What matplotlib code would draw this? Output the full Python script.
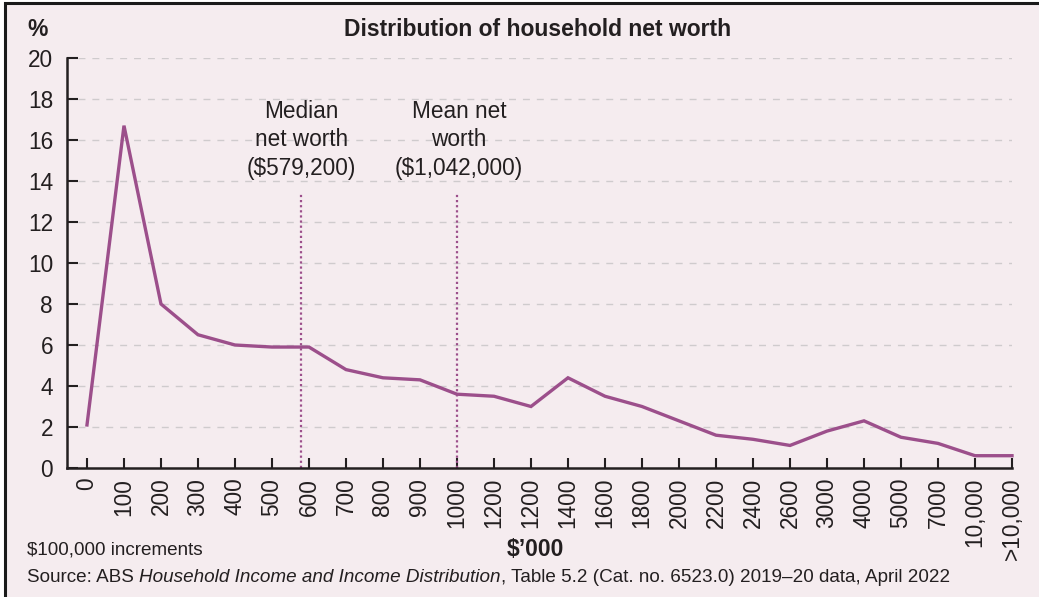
import matplotlib
matplotlib.use("Agg")
import matplotlib.pyplot as plt
from matplotlib.patches import Rectangle

plt.rcParams['font.family'] = ['Liberation Sans', 'DejaVu Sans']

# --- data ---
categories = ["0", "100", "200", "300", "400", "500", "600", "700", "800", "900",
              "1000", "1200", "1200", "1400", "1600", "1800", "2000", "2200", "2400",
              "2600", "3000", "4000", "5000", "7000", "10,000", ">10,000"]
share_pct = [2.1, 16.7, 8.0, 6.5, 6.0, 5.9, 5.9, 4.8, 4.4, 4.3,
             3.6, 3.5, 3.0, 4.4, 3.5, 3.0, 2.3, 1.6, 1.4,
             1.1, 1.8, 2.3, 1.5, 1.2, 0.6, 0.6]
median_k = 579.2
mean_k = 1042.0
y_ticks = [0, 2, 4, 6, 8, 10, 12, 14, 16, 18, 20]

BG = "#f5ecef"
LINE = "#9c4f8b"
GRID = "#cfcbcd"
TXT = "#231f20"

fig = plt.figure(figsize=(10.39, 5.97), dpi=100)
fig.patch.set_facecolor("white")
# panel background with black frame on left/top
fig.patches.append(Rectangle((5 / 1039, -0.01), 1.02, 1 - 3 / 597 + 0.01,
                             transform=fig.transFigure, facecolor=BG,
                             edgecolor="#1a1a1a", linewidth=2.2, zorder=-1))

ax = fig.add_axes([67 / 1039, 129 / 597, (1012 - 67) / 1039, 410 / 597])
ax.set_facecolor("none")

x = list(range(len(categories)))
ax.plot(x, share_pct, color=LINE, linewidth=2.4, solid_joinstyle="miter",
        clip_on=False, zorder=3)

# median / mean markers (positioned on the category scale)
median_pos = categories.index("500") + (median_k - 500) / 100
mean_pos = categories.index("1000")
for pos in (median_pos, mean_pos):
    ax.vlines(pos, 0, 13.4, colors=LINE, linewidth=1.6,
              linestyles=(0, (1, 1.3)), zorder=2)
ax.text(median_pos, 16, "Median\nnet worth\n($579,200)", ha="center", va="center",
        fontsize=16.3, color=TXT, linespacing=1.32)
ax.text(mean_pos + 0.05, 16, "Mean net\nworth\n($1,042,000)", ha="center", va="center",
        fontsize=16.3, color=TXT, linespacing=1.32)

# dashed gridlines
ax.hlines(y_ticks[1:], -0.25, len(categories) - 1, colors=GRID, linewidth=1.0,
          linestyles=(0, (5, 5)), zorder=1)

ax.set_xlim(-0.54, len(categories) - 1)
ax.set_ylim(0, 20)
ax.set_yticks(y_ticks)
ax.set_xticks(x)
ax.set_xticklabels(categories, rotation=90, va="top", ha="center")
ax.tick_params(axis="y", direction="in", length=8, width=1.5, pad=10,
               labelsize=16.3, colors=TXT)
ax.tick_params(axis="x", direction="in", length=7, width=1.5, pad=7,
               labelsize=16.3, colors=TXT)
for side in ("top", "right"):
    ax.spines[side].set_visible(False)
for side in ("left", "bottom"):
    ax.spines[side].set_linewidth(1.8)
    ax.spines[side].set_color(TXT)

# titles and notes
fig.text(538 / 1039, 1 - 30 / 597, "Distribution of household net worth",
         ha="center", va="center", fontsize=16.5, fontweight="bold", color=TXT)
fig.text(38 / 1039, 1 - 30 / 597, "%", ha="center", va="center",
         fontsize=16.5, fontweight="bold", color=TXT)
fig.text(27 / 1039, 1 - 550 / 597, "$100,000 increments", ha="left", va="center",
         fontsize=13.6, color=TXT)
fig.text(535 / 1039, 1 - 549 / 597, "$\u2019000", ha="center", va="center",
         fontsize=16.5, fontweight="bold", color=TXT)

# source line with italic title
parts = [("Source: ABS ", "normal"),
         ("Household Income and Income Distribution", "italic"),
         (", Table 5.2 (Cat. no. 6523.0) 2019\u201320 data, April 2022", "normal")]
renderer = fig.canvas.get_renderer()
xpos = 27
for s, style in parts:
    t = fig.text(xpos / 1039, 1 - 578 / 597, s, ha="left", va="center",
                 fontsize=13.6, style=style, color=TXT)
    bb = t.get_window_extent(renderer=renderer)
    xpos += bb.width

fig.savefig("out.png", dpi=100, facecolor=fig.get_facecolor())
